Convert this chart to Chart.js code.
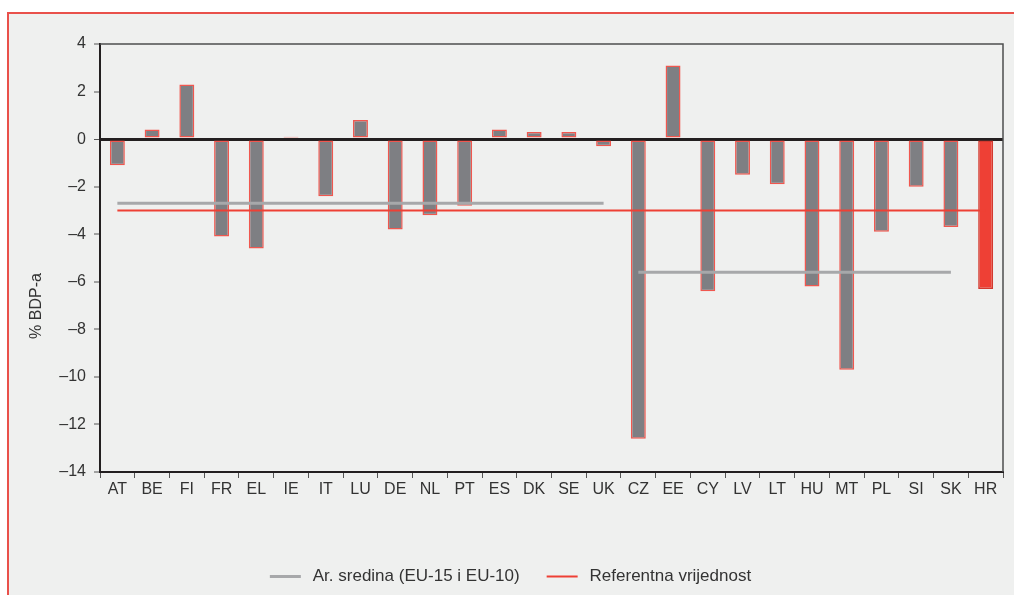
<!DOCTYPE html>
<html>
<head>
<meta charset="utf-8">
<script src="https://cdn.jsdelivr.net/npm/chart.js@4.4.1/dist/chart.umd.min.js"></script>
<style>
  html, body { margin: 0; padding: 0; background: #ffffff; }
  #wrap { position: relative; width: 1014px; height: 595px; overflow: hidden; }
  #frame { position: absolute; left: 7px; top: 12px; width: 1100px; height: 700px;
           background: #eff0ef; border: 2px solid #e9514b; box-sizing: border-box; }
  canvas { position: absolute; left: 0; top: 0; }
</style>
</head>
<body>
<div id="wrap">
  <div id="frame"></div>
  <canvas id="c" width="1014" height="595"></canvas>
</div>
<script>
const categories = ['AT','BE','FI','FR','EL','IE','IT','LU','DE','NL','PT','ES','DK','SE','UK',
                    'CZ','EE','CY','LV','LT','HU','MT','PL','SI','SK','HR'];
const balanceValues = [-1.1, 0.4, 2.3, -4.1, -4.6, 0.1, -2.4, 0.8, -3.8, -3.2, -2.8, 0.4, 0.3, 0.3, -0.3,
                       -12.6, 3.1, -6.4, -1.5, -1.9, -6.2, -9.7, -3.9, -2.0, -3.7, -6.3];
const meanEU15 = -2.7;
const meanEU10 = -5.6;
const referenceValue = -3.0;
const eu15Count = 15;
const eu10Count = 10;
const yTicks = [4, 2, 0, -2, -4, -6, -8, -10, -12, -14];
const legendLabels = ['Ar. sredina (EU-15 i EU-10)', 'Referentna vrijednost'];
const yTitle = '% BDP-a';

const eu15Line = categories.map((c, i) => i < eu15Count ? meanEU15 : null);
const eu10Line = categories.map((c, i) => (i >= eu15Count && i < eu15Count + eu10Count) ? meanEU10 : null);
const refLine = categories.map(() => referenceValue);

const GREY_BAR = '#7e7f83';
const RED = '#ee4035';
const FONT = "'Liberation Sans', Arial, sans-serif";
const TXT = '#333333';

const frameBox = {
  id: 'frameBox',
  afterDatasetsDraw(chart) {
    const {ctx, chartArea: a} = chart;
    ctx.save();
    ctx.strokeStyle = '#4d4d4f';
    ctx.lineWidth = 1.5;
    ctx.beginPath();
    ctx.moveTo(a.left, a.top);
    ctx.lineTo(a.right, a.top);
    ctx.lineTo(a.right, a.bottom);
    ctx.stroke();
    ctx.restore();
  }
};

const yAxisTitle = {
  id: 'yAxisTitle',
  afterDraw(chart) {
    const {ctx, chartArea: a} = chart;
    ctx.save();
    ctx.font = '16px ' + FONT;
    ctx.fillStyle = TXT;
    ctx.textAlign = 'center';
    ctx.textBaseline = 'middle';
    ctx.translate(37, (a.top + a.bottom) / 2 + 48);
    ctx.rotate(-Math.PI / 2);
    ctx.fillText(yTitle, 0, 0);
    ctx.restore();
  }
};

new Chart(document.getElementById('c'), {
  data: {
    labels: categories,
    datasets: [
      { type: 'line', label: legendLabels[0], data: eu15Line, borderColor: '#a7a8aa', borderWidth: 3,
        pointRadius: 0, fill: false, spanGaps: false, borderCapStyle: 'butt' },
      { type: 'line', label: 'EU-10', data: eu10Line, borderColor: '#a7a8aa', borderWidth: 3,
        pointRadius: 0, fill: false, spanGaps: false, borderCapStyle: 'butt' },
      { type: 'line', label: legendLabels[1], data: refLine, borderColor: RED, borderWidth: 2,
        pointRadius: 0, fill: false },
      { type: 'bar', label: 'bars', data: balanceValues,
        backgroundColor: categories.map(c => c === 'HR' ? RED : GREY_BAR),
        borderColor: categories.map(c => c === 'HR' ? '#d23a30' : '#f0574f'),
        borderWidth: 1.5, borderSkipped: false,
        barPercentage: 0.43, categoryPercentage: 1.0 }
    ]
  },
  options: {
    responsive: false,
    animation: false,
    layout: { padding: { left: 18, right: 11, top: 44, bottom: 0 } },
    plugins: {
      tooltip: { enabled: false },
      legend: {
        position: 'bottom',
        labels: {
          usePointStyle: true, pointStyle: 'line', pointStyleWidth: 31,
          font: { family: FONT, size: 17 }, color: TXT, padding: 10,
          filter: item => item.datasetIndex === 0 || item.datasetIndex === 2,
          generateLabels: chart => {
            const items = Chart.defaults.plugins.legend.labels.generateLabels(chart);
            items.forEach(it => {
              it.text = '\u2009' + it.text + (it.datasetIndex === 0 ? '\u2003' : '');
            });
            return items;
          }
        }
      }
    },
    scales: {
      x: {
        offset: true,
        grid: { offset: true, drawOnChartArea: false, drawTicks: true, tickLength: 6,
                tickColor: '#555555', tickWidth: 1 },
        border: { display: true, color: '#231f20', width: 2 },
        ticks: { font: { family: FONT, size: 16 }, color: TXT, padding: 2, maxRotation: 0, autoSkip: false },
        afterFit: s => { s.height = 86; }
      },
      y: {
        min: -14, max: 4,
        afterBuildTicks: s => { s.ticks = yTicks.map(v => ({ value: v })); },
        grid: {
          drawOnChartArea: true, drawTicks: true, tickLength: 6,
          color: ctx => ctx.tick && ctx.tick.value === 0 ? '#231f20' : 'rgba(0,0,0,0)',
          lineWidth: ctx => ctx.tick && ctx.tick.value === 0 ? 3 : 0,
          tickColor: '#555555', tickWidth: 1
        },
        border: { display: true, color: '#231f20', width: 2 },
        ticks: { font: { family: FONT, size: 16 }, color: TXT, padding: 8,
                 callback: v => String(v).replace('-', '\u2013') },
        afterFit: s => { s.width = 82; }
      }
    }
  },
  plugins: [frameBox, yAxisTitle]
});
</script>
</body>
</html>
